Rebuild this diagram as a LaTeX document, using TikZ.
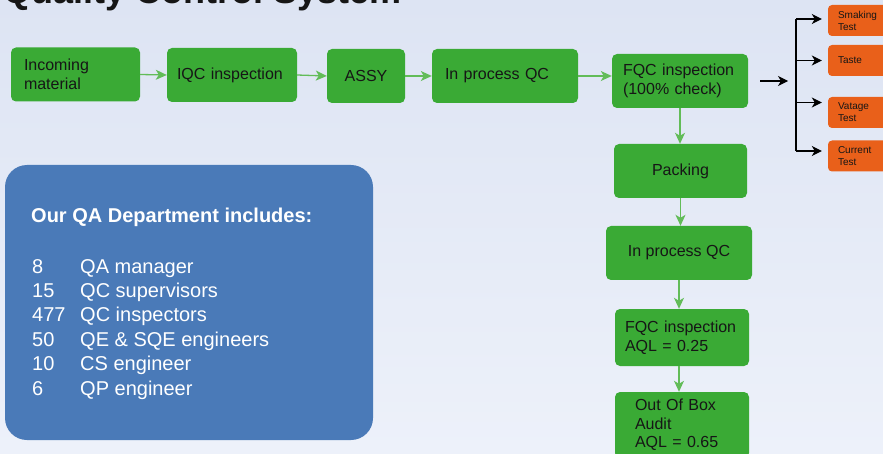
\documentclass[tikz,border=0pt]{standalone}
\usepackage{fontspec}
\setmainfont{Liberation Sans}
\usetikzlibrary{arrows.meta,calc}
\definecolor{bgtop}{RGB}{221,228,243}
\definecolor{bgbot}{RGB}{237,241,250}
\definecolor{qgreen}{RGB}{58,170,53}
\definecolor{agreen}{RGB}{98,188,88}
\definecolor{qorange}{RGB}{233,96,26}
\definecolor{qblue}{RGB}{74,122,184}
\definecolor{qtext}{RGB}{22,22,22}
\begin{document}
\begin{tikzpicture}[x=1pt,y=-1pt,
  gbox/.style={fill=qgreen, rounded corners=5pt, text=qtext,
    font=\fontsize{16}{19}\selectfont, inner ysep=0pt, minimum height=54pt},
  gboxl/.style n args={2}{gbox, text width=#1, inner xsep=#2, align=left},
  gboxc/.style={gbox, minimum width=#1, align=center},
  obox/.style={fill=qorange, rounded corners=4pt, text=qtext,
    font=\fontsize{10}{12}\selectfont, text width=40pt, inner xsep=10pt,
    align=left, minimum height=31pt, inner ysep=0pt},
  garrow/.style={draw=agreen, line width=1.3pt, -{Stealth[length=11pt,width=10pt,inset=3pt]}},
  barrow/.style={draw=black, line width=1.1pt, -{Stealth[length=10pt,width=10pt,inset=3pt]}},
  listtxt/.style={text=white, font=\fontsize{20}{24}\selectfont, inner sep=0pt, anchor=base west}
]
% background
\shade[top color=bgtop, bottom color=bgbot] (0,0) rectangle (883,454);

\begin{scope}
\clip (0,0) rectangle (883,454);
\node[anchor=base west, inner sep=0pt, font=\fontsize{36}{40}\selectfont\bfseries, text=qtext] (title) at (3,3.5) {Quality Control System};

% top row
\node[gboxl={103pt}{13pt}] (inc) at (75.5,74.5) {Incoming\\material};
\node[gboxl={110pt}{10pt}] (iqc) at (232,75) {IQC inspection};
\node[gboxc=78pt] (assy) at (366,76) {ASSY};
\node[gboxl={120pt}{13pt}] (ipqc) at (505,76) {In process QC};
\node[gboxl={114pt}{11pt}] (fqc) at (680,81) {FQC inspection\\(100\% check)};

% vertical chain
\node[gboxc=133pt] (pack) at (680.5,171) {Packing};
\node[gboxc=146pt] (ipqc2) at (679,253) {In process QC};
\node[gboxl={114pt}{10pt}, minimum height=57pt] (fqc2) at (682,337.5) {FQC inspection\\AQL = 0.25};
\node[gboxl={94pt}{20pt}, minimum height=66pt, font=\fontsize{16}{18.5}\selectfont] (oob) at (682,425) {Out Of Box\\Audit\\AQL = 0.65};

% orange tests
\node[obox] (t1) at (858,20.5) {Smaking\\Test};
\node[obox] (t2) at (858,60.5) {Taste};
\node[obox] (t3) at (858,112.5) {Vatage\\Test};
\node[obox] (t4) at (858,156) {Current\\Test};

% green arrows
\draw[garrow] (inc.east) -- (iqc.west);
\draw[garrow] (iqc.east) -- (assy.west);
\draw[garrow] (assy.east) -- (ipqc.west);
\draw[garrow] (ipqc.east) -- (ipqc.east -| fqc.west);
\draw[garrow] (fqc.south) -- (fqc.south |- pack.north);
\draw[garrow] (pack.south) -- (pack.south |- ipqc2.north);
\draw[garrow] (ipqc2.south) -- (ipqc2.south |- fqc2.north);
\draw[garrow] (ipqc2.south |- fqc2.south) -- (ipqc2.south |- oob.north);

% black branch
\coordinate (split) at (796,81);
\coordinate (btop) at (796,19);
\coordinate (bbot) at (796,151);
\draw[barrow, shorten <=12pt, shorten >=8pt] (fqc.east) -- (fqc.east -| split);
\draw[line width=1.1pt] (btop) -- (bbot);
\draw[barrow, shorten >=6pt] (btop) -- (btop -| t1.west);
\draw[barrow, shorten >=6pt] (split |- t2.west) -- (t2.west);
\draw[barrow, shorten >=6pt] ($(split |- t3.west)+(0,-10)$) -- ($(t3.west)+(0,-10)$);
\draw[barrow, shorten >=6pt] (bbot) -- (bbot -| t4.west);

% QA department box
\node[fill=qblue, rounded corners=22pt, minimum width=368pt, minimum height=275pt, inner sep=0pt] (dept) at (189,302.5) {};
\node[anchor=base west, inner sep=0pt, text=white, font=\fontsize{20}{24}\selectfont\bfseries] (depttitle) at (31,223) {Our QA Department includes:};
\foreach \n/\t [count=\i from 0] in {8/QA manager, 15/QC supervisors, 477/QC inspectors, 50/QE \& SQE engineers, 10/CS engineer, 6/QP engineer} {
  \node[listtxt] (num\i) at (32,273+24.4*\i) {\n};
  \node[listtxt] (item\i) at (80,273+24.4*\i) {\t};
}
\end{scope}
\pgfresetboundingbox
\useasboundingbox (0,0) rectangle (883,454);
\end{tikzpicture}
\end{document}
